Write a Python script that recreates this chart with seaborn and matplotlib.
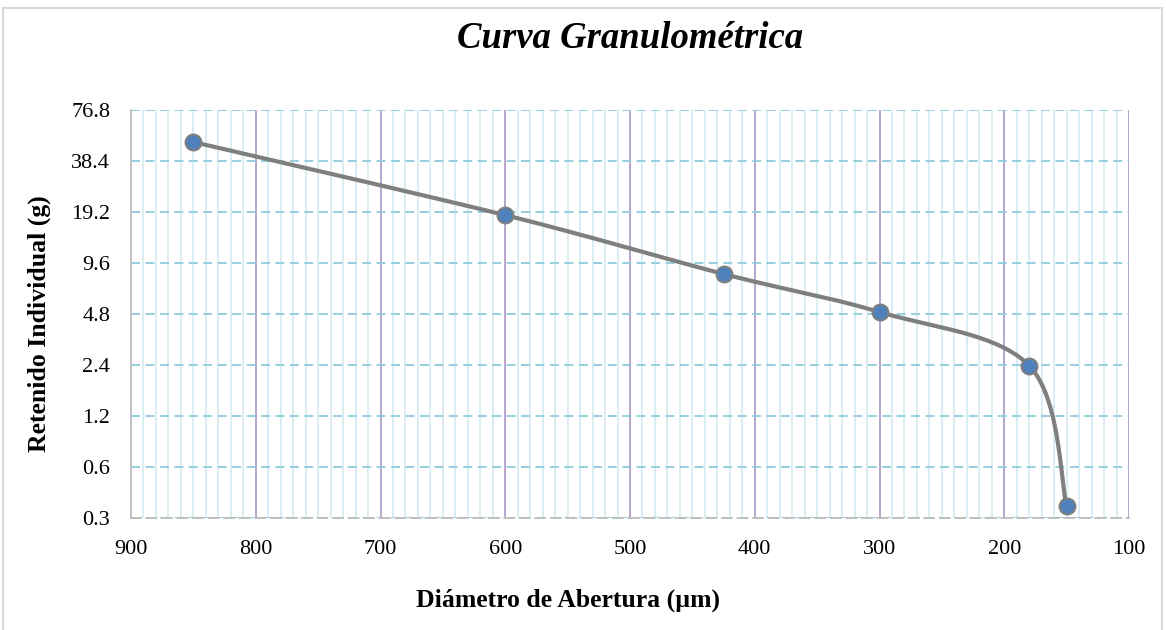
import numpy as np
import pandas as pd
import matplotlib
matplotlib.use("Agg")
import matplotlib.pyplot as plt
from matplotlib.patches import Rectangle
from matplotlib.ticker import FixedLocator, MultipleLocator, FuncFormatter
import seaborn as sns

# Data
diametro = [850, 600, 425, 300, 180, 150]
retenido = [49.7, 18.4, 8.27, 4.93, 2.38, 0.354]
y_ticks = [0.3, 0.6, 1.2, 2.4, 4.8, 9.6, 19.2, 38.4, 76.8]
x_ticks = [900, 800, 700, 600, 500, 400, 300, 200, 100]

title = "Curva Granulométrica"
xlabel = "Diámetro de Abertura (µm)"
ylabel = "Retenido Individual (g)"

sns.set_style("white")
plt.rcParams['font.family'] = ['Liberation Serif', 'DejaVu Serif']
plt.rcParams['text.color'] = 'black'
plt.rcParams['axes.labelcolor'] = 'black'

fig = plt.figure(figsize=(11.66, 6.30), dpi=100)
ax = fig.add_axes([131/1166, 1-518/630, (1129-131)/1166, (518-110)/630])

# Smooth curve (Catmull-Rom in x / log2(y) space, like Excel smoothing)
px = np.array(diametro, dtype=float)
py = np.log2(np.array(retenido, dtype=float))
P = np.column_stack([px, py])
Pext = np.vstack([P[0], P, P[-1]])
curve = []
t = np.linspace(0, 1, 60)
for i in range(1, len(Pext) - 2):
    p0, p1, p2, p3 = Pext[i-1], Pext[i], Pext[i+1], Pext[i+2]
    c1 = p1 + (p2 - p0) / 6
    c2 = p2 - (p3 - p1) / 6
    seg = ((1-t)**3)[:, None]*p1 + (3*(1-t)**2*t)[:, None]*c1 + (3*(1-t)*t**2)[:, None]*c2 + (t**3)[:, None]*p2
    curve.append(seg)
curve = np.vstack(curve)
smooth = pd.DataFrame({"x": curve[:, 0], "y": 2**curve[:, 1]})

ax.set_yscale('log', base=2)
ax.set_xlim(900, 100)
ax.set_ylim(0.3, 76.8)

# grid
ax.xaxis.set_major_locator(FixedLocator(x_ticks))
ax.xaxis.set_minor_locator(MultipleLocator(10))
ax.yaxis.set_major_locator(FixedLocator(y_ticks))
ax.yaxis.set_minor_locator(FixedLocator([]))
ax.yaxis.set_major_formatter(FuncFormatter(lambda v, p: f"{v:g}"))
ax.xaxis.set_major_formatter(FuncFormatter(lambda v, p: f"{v:g}"))

ax.grid(which='minor', axis='x', color='#CFE8EF', lw=1.1, zorder=0)
ax.grid(which='major', axis='x', color='#B7A6CC', lw=1.4, zorder=0)
ax.grid(which='major', axis='y', color='#8FCCDC', lw=1.3, linestyle=(0, (5, 3)), zorder=0)
ax.set_axisbelow(True)

ax.tick_params(axis='both', which='both', length=0, labelsize=16, colors='black')
ax.tick_params(axis='y', pad=15)
ax.tick_params(axis='x', pad=16)

for s in ['top', 'right']:
    ax.spines[s].set_visible(False)
ax.spines['left'].set_color('#BFBFBF')
ax.spines['left'].set_linewidth(1.2)
ax.spines['bottom'].set_color('#BFBFBF')
ax.spines['bottom'].set_linewidth(1.4)
ax.spines['bottom'].set_linestyle((0, (5, 3)))

sns.lineplot(data=smooth, x="x", y="y", sort=False, estimator=None, color='#7F7F7F', lw=3, ax=ax, zorder=3)
sns.scatterplot(x=diametro, y=retenido, s=130, color='#4F81BD', edgecolor='#7F7F7F', linewidth=1.5, ax=ax, zorder=4)

ax.set_xlabel(xlabel, fontsize=18.5, fontweight='bold')
ax.set_ylabel(ylabel, fontsize=18.5, fontweight='bold')
ax.xaxis.set_label_coords((568-131)/998, -(600-518)/408)
ax.yaxis.set_label_coords(-(131-39)/998, (518-324)/408)
ax.xaxis.label.set_va('center')
ax.yaxis.label.set_va('center')
fig.text(630/1166, 1-38/630, title, ha='center', va='center', fontsize=26.5, style='italic', fontweight='bold')

fig.patches.append(Rectangle((3/1166, -0.01), 1159/1166, 1-8/630+0.01, transform=fig.transFigure,
                             fill=False, edgecolor='#D9D9D9', lw=1.5))

fig.savefig("out.png", dpi=100)
